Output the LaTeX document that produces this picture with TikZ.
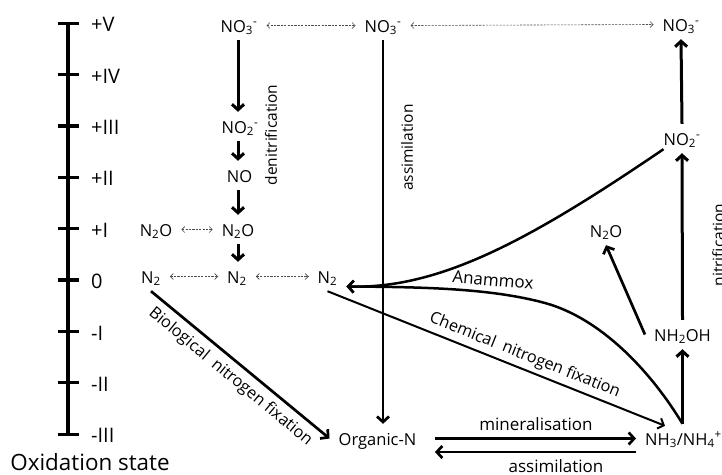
\documentclass[tikz,border=0pt]{standalone}
\usepackage{fontspec}
\setmainfont{Open Sans}
\usetikzlibrary{arrows.meta}
\begin{document}
\begin{tikzpicture}[x=1pt,y=-1pt,
  chem/.style={font=\fontsize{16.5}{19}\selectfont, anchor=base, text height=20pt, text depth=7pt, inner ysep=1pt, inner xsep=9pt},
  axlab/.style={font=\fontsize{20}{23}\selectfont, anchor=west, inner sep=0pt},
  lab/.style={font=\fontsize{17}{20}\selectfont, inner sep=2pt},
  vlab/.style={font=\fontsize{15.5}{18}\selectfont, inner sep=2pt, rotate=90},
  slab/.style={font=\fontsize{16.3}{19}\selectfont, inner sep=4pt, sloped},
  bigarr/.style={line width=3pt, -{Straight Barb[length=5.5pt,width=12pt]}},
  medarr/.style={line width=2.7pt, -{Straight Barb[length=5.5pt,width=12pt]}},
  thinarr/.style={line width=2pt, -{Straight Barb[length=5pt,width=11pt]}},
  dasharr/.style={draw=black!70, line width=0.6pt, dash pattern=on 2.2pt off 1.2pt, {Straight Barb[length=3pt,width=6pt]}-{Straight Barb[length=3pt,width=6pt]}},
  curvearr/.style={line width=2.5pt, -{Straight Barb[length=5.5pt,width=12pt]}},
  axisline/.style={line width=3.2pt},
]
\useasboundingbox (0,0) rectangle (722,474);
% axis
\foreach \lab [count=\i from 0] in {+V,+IV,+III,+II,+I,0,-I,-II,-III} {
  \coordinate (t\i) at (68,23.3+51.35*\i);
  \draw[axisline] ([xshift=-10.5pt]t\i) -- ([xshift=10.5pt]t\i);
  \node[axlab] (ax\i) at (91,24.8+51.35*\i) {\lab};
}
\draw[axisline] (t0) -- (t8);
\node[font=\fontsize{22.4}{26}\selectfont, inner sep=0pt, anchor=base] (oxs) at (90,470.5) {Oxidation state};

% species
\node[chem] (no3a) at (239,32) {NO\textsubscript{3}\textsuperscript{-}};
\node[chem] (no3b) at (383,32) {NO\textsubscript{3}\textsuperscript{-}};
\node[chem] (no3c) at (681,31) {NO\textsubscript{3}\textsuperscript{-}};
\node[chem] (no2a) at (240,133) {NO\textsubscript{2}\textsuperscript{-}};
\node[chem] (no)   at (239.5,182) {NO};
\node[chem] (n2oa) at (238,236) {N\textsubscript{2}O};
\node[chem] (n2ol) at (156,236) {N\textsubscript{2}O};
\node[chem] (n2l)  at (151,283) {N\textsubscript{2}};
\node[chem] (n2m)  at (237,283) {N\textsubscript{2}};
\node[chem] (n2r)  at (327.5,283) {N\textsubscript{2}};
\node[chem] (no2c) at (682,145) {NO\textsubscript{2}\textsuperscript{-}};
\node[chem] (n2or) at (606,237) {N\textsubscript{2}O};
\node[chem] (nh2oh) at (682.5,341) {NH\textsubscript{2}OH};
\node[chem] (orgn) at (377.5,445) {Organic-N};
\node[chem, anchor=base west] (nh3) at (636,445) {NH\textsubscript{3}/NH\textsubscript{4}\textsuperscript{+}};

\coordinate (colx) at (238,0);
\coordinate (nh3t) at (nh3.north -| nh2oh.south);
\coordinate (anx) at ([yshift=-10pt]n2r.east);
\coordinate (no2cs) at ([xshift=9pt,yshift=4pt]no2c.south west);
\coordinate (nh3in) at ([xshift=29pt,yshift=-2pt]nh3.north west);

% dashed equivalences
\draw[dasharr] (no3a.east) -- (no3b.west);
\draw[dasharr] (no3b.east) -- (no3c.west);
\draw[dasharr] (n2ol.east) -- (n2oa.west);
\draw[dasharr] (n2l.east) -- (n2m.west);
\draw[dasharr] (n2m.east) -- (n2r.west);

% denitrification
\draw[bigarr] (no3a.south -| colx) -- (no2a.north -| colx);
\draw[bigarr] (no2a.south -| colx) -- (no.north -| colx);
\draw[bigarr] (no.south -| colx) -- (n2oa.north -| colx);
\draw[bigarr] (n2oa.south -| colx) -- (n2m.north -| colx);
\node[vlab] (denit) at (271,135) {denitrification};

% assimilation (vertical)
\draw[medarr] (no3b.south) -- (no3b.south |- orgn.north);
\node[vlab] (assimv) at (407,147.5) {assimilation};

% nitrification
\draw[bigarr] (nh3t) -- (nh2oh.south);
\draw[bigarr] (nh2oh.north) -- (no2c.south);
\draw[bigarr] (no2c.north) -- (no3c.south);
\draw[medarr] (nh2oh.west) -- (n2or.south);
\node[vlab, anchor=base] (nitr) at (724,245) {nitrification};

% anammox
\draw[curvearr] (no2cs) .. controls (530,240) and (440,289) .. (anx);
\draw[curvearr] (nh3t) .. controls (650,370) and (600,318) .. (545,303)
   .. controls (490,288) and (420,287) .. (anx);
\node[lab, rotate=-5] (anam) at (493,280) {Anammox};

% fixation
\draw[medarr] (n2l.south) -- (orgn.west)
   node[slab, pos=0.5, below, inner sep=6pt] (biofix) {Biological\ \ nitrogen fixation};
\draw[thinarr] (n2r.south) -- (nh3in)
   node[slab, pos=0.57, above] (chemfix) {Chemical\ \ nitrogen fixation};

% mineralisation / assimilation
\draw[medarr, shorten <=9.5pt] (orgn.east) -- (nh3.west);
\node[lab] (miner) at (536,424) {mineralisation};
\draw[medarr, shorten >=9.5pt] ([yshift=-13.5pt]nh3.west) -- ([yshift=-13.5pt]orgn.east);
\node[lab] (assimh) at (556,466) {assimilation};
\end{tikzpicture}
\end{document}
